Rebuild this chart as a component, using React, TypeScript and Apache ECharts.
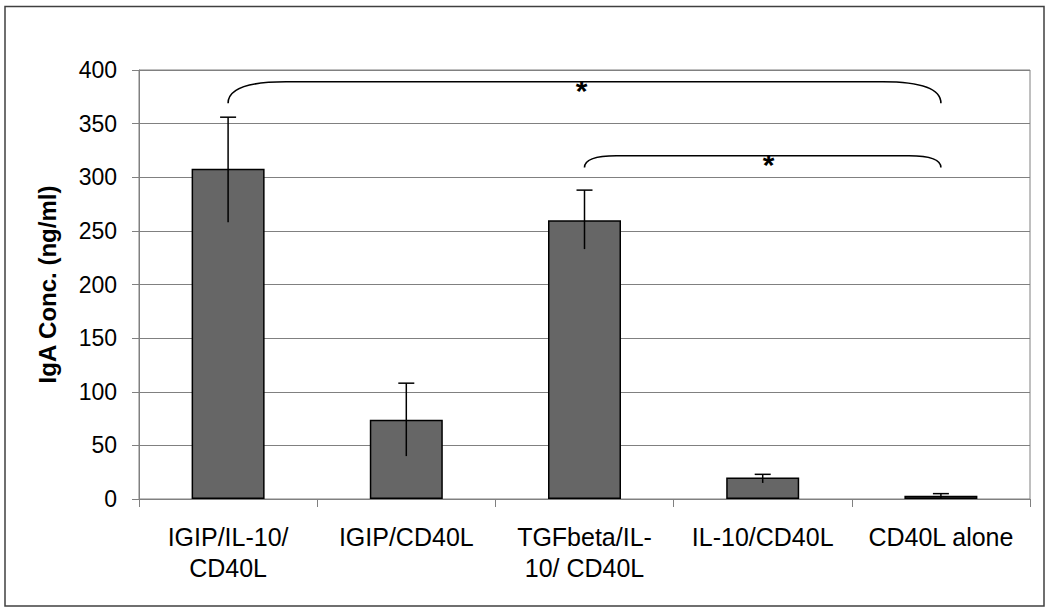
import React, { useEffect, useRef } from "react";
import * as echarts from "echarts";

const categories = [
  "IGIP/IL-10/\nCD40L",
  "IGIP/CD40L",
  "TGFbeta/IL-\n10/ CD40L",
  "IL-10/CD40L",
  "CD40L alone",
];
const means = [308, 74, 260, 20, 3];
const errLow = [258, 40, 233, 15, 1];
const errHigh = [356, 108, 288, 23, 5];

// significance brackets: start category index, end category index, top value, foot value
const bracketStart = [0, 2];
const bracketEnd = [4, 4];
const bracketTop = [389, 320];
const bracketFoot = [369, 309];
const bracketLabel = ["*", "*"];

const yTicks = { min: 0, max: 400, interval: 50 };

export default function App() {
  const ref = useRef<HTMLDivElement>(null);
  useEffect(() => {
    if (!ref.current) return;
    const chart = echarts.init(ref.current, null, { renderer: "svg" });
    const font = "'Liberation Sans', Arial, sans-serif";
    const errData = categories.map((_, i) => [i, errLow[i], errHigh[i]]);
    const brData = bracketStart.map((s, i) => [s, bracketEnd[i], bracketTop[i], bracketFoot[i]]);
    chart.setOption({
      animation: false,
      backgroundColor: "#ffffff",
      textStyle: { fontFamily: font },
      graphic: [
        {
          type: "rect",
          shape: { x: 5, y: 6.5, width: 1039, height: 599.5 },
          style: { fill: "none", stroke: "#404040", lineWidth: 1.5 },
          silent: true,
          z: 0,
        },
      ],
      grid: {
        left: 139,
        top: 70,
        right: 20,
        bottom: 113,
        show: true,
        borderColor: "#808080",
        borderWidth: 1,
        backgroundColor: "transparent",
      },
      xAxis: {
        type: "category",
        data: categories,
        axisLine: { lineStyle: { color: "#808080", width: 1 } },
        axisTick: { show: true, length: 8, alignWithLabel: false, lineStyle: { color: "#808080" } },
        axisLabel: {
          fontSize: 25,
          color: "#000",
          fontFamily: font,
          lineHeight: 31,
          margin: 22,
          interval: 0,
        },
        splitLine: { show: false },
      },
      yAxis: {
        type: "value",
        min: yTicks.min,
        max: yTicks.max,
        interval: yTicks.interval,
        name: "IgA Conc. (ng/ml)",
        nameLocation: "middle",
        nameRotate: 90,
        nameGap: 80,
        nameTextStyle: { fontSize: 24, fontWeight: "bold", color: "#000", fontFamily: font },
        axisLine: { show: true, lineStyle: { color: "#808080", width: 1 } },
        axisTick: { show: true, length: 7, lineStyle: { color: "#808080" } },
        axisLabel: { fontSize: 23, color: "#000", fontFamily: font, margin: 22 },
        splitLine: { show: true, lineStyle: { color: "#808080", width: 1 } },
      },
      series: [
        {
          type: "bar",
          data: means,
          barWidth: 73,
          itemStyle: { color: "#666666", borderColor: "#000", borderWidth: 1.5 },
          z: 2,
        },
        {
          type: "custom",
          data: errData,
          z: 3,
          renderItem: (params: any, api: any) => {
            const x = api.value(0);
            const lo = api.coord([x, api.value(1)]);
            const hi = api.coord([x, api.value(2)]);
            const cap = 8;
            const style = { stroke: "#000", lineWidth: 1.5 };
            return {
              type: "group",
              children: [
                { type: "line", shape: { x1: hi[0], y1: hi[1], x2: lo[0], y2: lo[1] }, style },
                { type: "line", shape: { x1: hi[0] - cap, y1: hi[1], x2: hi[0] + cap, y2: hi[1] }, style },
              ],
            };
          },
        },
        {
          type: "custom",
          data: brData,
          z: 4,
          renderItem: (params: any, api: any) => {
            const s = api.value(0);
            const e = api.value(1);
            const top = api.value(2);
            const foot = api.value(3);
            const a = api.coord([s, foot]);
            const b = api.coord([e, foot]);
            const t = api.coord([s, top]);
            const yT = t[1];
            const h = a[1] - yT;
            const w = h * 2.7;
            const d = `M ${a[0]} ${a[1]} Q ${a[0]} ${yT} ${a[0] + w} ${yT} L ${b[0] - w} ${yT} Q ${b[0]} ${yT} ${b[0]} ${b[1]}`;
            const mid = (a[0] + b[0]) / 2;
            return {
              type: "group",
              children: [
                {
                  type: "path",
                  shape: { pathData: d },
                  style: { fill: "none", stroke: "#000", lineWidth: 1.6 },
                },
                {
                  type: "text",
                  x: mid + (params.dataIndex === 0 ? -3 : 6),
                  y: yT + 9,
                  style: {
                    text: bracketLabel[params.dataIndex],
                    fontSize: 30,
                    fontWeight: "bold",
                    fontFamily: font,
                    fill: "#000",
                    align: "center",
                    verticalAlign: "middle",
                  },
                },
              ],
            };
          },
        },
      ],
    });
    return () => chart.dispose();
  }, []);
  return (
    <div
      ref={ref}
      style={{ position: "fixed", left: 0, top: 0, width: 1050, height: 612, background: "#fff" }}
    />
  );
}
